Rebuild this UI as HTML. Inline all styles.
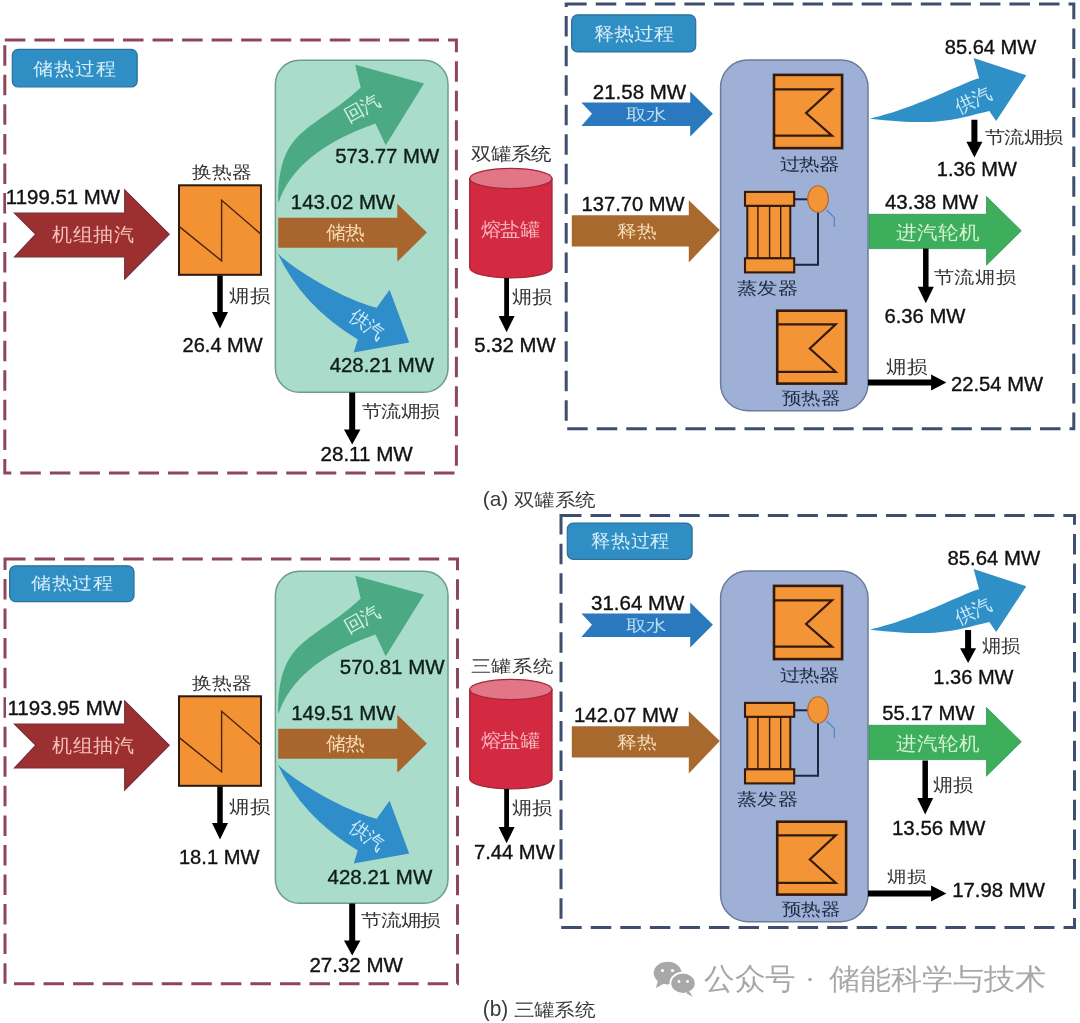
<!DOCTYPE html>
<html><head><meta charset="utf-8"><style>
html,body{margin:0;padding:0;background:#fff;overflow:hidden;}
svg{display:block;font-family:'Liberation Sans', sans-serif;filter:blur(0.4px);}
</style></head><body>
<svg width="1080" height="1023" viewBox="0 0 1080 1023">
<rect width="1080" height="1023" fill="#fff"/>
<g>
<path d="M4.8,40 H456.4 V473 H4.8 Z" fill="none" stroke="#8E4659" stroke-width="3" stroke-dasharray="20.5 9.05"/>
<path d="M566.2,4.1 H1073.8 V428.8 H566.2 Z" fill="none" stroke="#3D4E6E" stroke-width="3" stroke-dasharray="20.5 9.05"/>
<rect x="12.3" y="49.4" width="124.9" height="37.6" rx="6" fill="#2F8EC4" stroke="#2C6F98" stroke-width="1.2"/>
<text transform="translate(33.3,74.54) scale(1.1142,1)" font-size="18.47" fill="#D6EEFA" font-weight="normal">储热过程</text>
<rect x="571.6" y="14.8" width="124.1" height="37.1" rx="6" fill="#2F8EC4" stroke="#2C6F98" stroke-width="1.2"/>
<text transform="translate(593.89,40.09) scale(1.1151,1)" font-size="18.16" fill="#D6EEFA" font-weight="normal">释热过程</text>
<polygon points="14.5,213 124.7,213 124.7,190 169.2,234.2 124.7,279 124.7,257 14.5,257 35.8,234.2" fill="#9C2F30" stroke="#74313D" stroke-width="1.2" stroke-linejoin="miter" />
<rect x="6" y="186" width="118" height="25.5" fill="#fff"/>
<text transform="translate(5.87,204.2) scale(1.0524,1)" font-size="19.4" fill="#111" stroke="#111" stroke-width="0.35">1199.51 MW</text>
<text transform="translate(52.3,241.35) scale(1.0576,1)" font-size="18.96" fill="#F6C2B8" font-weight="normal">机组抽汽</text>
<rect x="179" y="185.3" width="82" height="89.5" rx="0" fill="#F39233" stroke="#2A1A10" stroke-width="2"/>
<polyline points="179,226.4 221.6,260.8 221.6,200.3 261,234.2" fill="none" stroke="#4A2410" stroke-width="1.4"/>
<text transform="translate(191.6,178.07) scale(1.1687,1)" font-size="17.08" fill="#333333" font-weight="normal">换热器</text>
<polygon points="217.25,275.5 222.75,275.5 222.75,312 228,312 220,328.5 212,312 217.25,312" fill="#000" stroke="none" stroke-width="0" stroke-linejoin="miter" />
<text transform="translate(229.4,301.54) scale(1.1336,1)" font-size="17.55" fill="#333333" font-weight="normal">㶲损</text>
<text transform="translate(182.6,352.2) scale(1.0309,1)" font-size="19.4" fill="#111" stroke="#111" stroke-width="0.35">26.4 MW</text>
<rect x="275.4" y="60.2" width="172.6" height="332" rx="24" fill="#A9DCCA" stroke="#6F9C8D" stroke-width="1.5"/>
<path d="M278.3,203.3 C277.2,126.3 313.6,131.8 360.7,87.4 L355.2,64.7 L424,83.5 L385.7,145.2 L375.5,123.5 Q294.9,151.7 278.3,203.3 Z" fill="#4BA983" stroke="none" stroke-width="0" />
<text transform="translate(362.3,108.5) rotate(-29) scale(1.0,1)" x="-19" y="6.46" font-size="19" fill="#D3F2E4">回汽</text>
<text transform="translate(335.19,162.5) scale(1.0492,1)" font-size="19.4" fill="#0F1F18" stroke="#0F1F18" stroke-width="0.35">573.77 MW</text>
<polygon points="278.2,217.8 397.3,217.8 397.3,203.8 426.9,232.4 397.3,261.8 397.3,247.7 278.2,247.7" fill="#A8652E" stroke="none" stroke-width="0" stroke-linejoin="miter" />
<rect x="288" y="190" width="109" height="24" fill="#A9DCCA" opacity="0"/>
<text transform="translate(290.87,208.8) scale(1.0514,1)" font-size="19.4" fill="#0F1F18" stroke="#0F1F18" stroke-width="0.35">143.02 MW</text>
<text transform="translate(325.7,239.45) scale(1.0406,1)" font-size="19.07" fill="#F7DDB5" font-weight="normal">储热</text>
<path d="M277.2,252.2 C278.7,257.2 330,294.9 376.7,307.8 L389.6,289.7 L409.2,342.4 L353.7,352.6 L357.8,339.4 Q301.4,305.6 277.2,252.2 Z" fill="#2F8ECA" stroke="none" stroke-width="0" />
<text transform="translate(367,324.5) rotate(34) scale(1.0,1)" x="-19" y="6.37" font-size="19" fill="#CDEBFA">供汽</text>
<text transform="translate(329.69,371.5) scale(1.0512,1)" font-size="19.4" fill="#0F1F18" stroke="#0F1F18" stroke-width="0.35">428.21 MW</text>
<polygon points="349.2,392.5 355.2,392.5 355.2,429.6 360.45,429.6 352.2,444.5 343.95,429.6 349.2,429.6" fill="#000" stroke="none" stroke-width="0" stroke-linejoin="miter" />
<text transform="translate(362,417.03) scale(1.1733,1)" font-size="16.94" fill="#333333" font-weight="normal">节流㶲损</text>
<text transform="translate(320.47,461) scale(1.0623,1)" font-size="19.4" fill="#111" stroke="#111" stroke-width="0.35">28.11 MW</text>
<path d="M469.7,178.5 L469.7,267.7 A41.15,10.2 0 0 0 552,267.7 L552,178.5 Z" fill="#D42A41" stroke="#A2283A" stroke-width="1.3" />
<ellipse cx="510.85" cy="178.5" rx="41.15" ry="10.2" fill="#E27586" stroke="#A2283A" stroke-width="1.3"/>
<text transform="translate(470.8,159.71) scale(1.1402,1)" font-size="17.63" fill="#333333" font-weight="normal">双罐系统</text>
<text transform="translate(480.8,235.75) scale(1.0739,1)" font-size="18.75" fill="#F5B3BE" font-weight="normal">熔盐罐</text>
<polygon points="504.2,278 509,278 509,316 514.6,316 506.6,332.2 498.6,316 504.2,316" fill="#000" stroke="none" stroke-width="0" stroke-linejoin="miter" />
<text transform="translate(511.8,303.11) scale(1.1171,1)" font-size="17.77" fill="#333333" font-weight="normal">㶲损</text>
<text transform="translate(474.19,351.7) scale(1.0492,1)" font-size="19.4" fill="#111" stroke="#111" stroke-width="0.35">5.32 MW</text>
<polygon points="581.4,102.5 690.2,102.5 690.2,91.4 712.9,113.8 690.2,136.6 690.2,126.1 581.4,126.1 592,113.8" fill="#2A78BE" stroke="none" stroke-width="0" stroke-linejoin="miter" />
<rect x="590" y="82" width="100" height="20" fill="#fff"/>
<text transform="translate(592.77,98.5) scale(1.0573,1)" font-size="19.4" fill="#111" stroke="#111" stroke-width="0.35">21.58 MW</text>
<text transform="translate(625.89,120.16) scale(1.3015,1)" font-size="15.68" fill="#B9DEF4" font-weight="normal">取水</text>
<polygon points="571.8,215.2 688.8,215.2 688.8,200.2 719.8,230.1 688.8,262.4 688.8,246.4 571.8,246.4" fill="#A8692F" stroke="none" stroke-width="0" stroke-linejoin="miter" />
<text transform="translate(581.59,210.5) scale(1.0371,1)" font-size="19.4" fill="#111" stroke="#111" stroke-width="0.35">137.70 MW</text>
<text transform="translate(617.1,237.35) scale(1.1647,1)" font-size="17.22" fill="#F5DDB8" font-weight="normal">释热</text>
<rect x="720.6" y="60.1" width="147.4" height="350.6" rx="27" fill="#9EB0D6" stroke="#6C7B9A" stroke-width="1.5"/>
<rect x="774" y="74.9" width="68.1" height="73.2" rx="0" fill="#F39536" stroke="#341A0C" stroke-width="2.6"/>
<polyline points="774,89.3 832,89.3 806.1,113 832,135.6 774,135.6" fill="none" stroke="#341A0C" stroke-width="2.2"/>
<text transform="translate(779.6,169.54) scale(1.2087,1)" font-size="16.63" fill="#1E2A40" font-weight="normal">过热器</text>
<polyline points="794.3,199.3 808,199.3" fill="none" stroke="#1B2540" stroke-width="2"/>
<polyline points="818,212 818,264.8 794.3,264.8" fill="none" stroke="#1B2540" stroke-width="2"/>
<polyline points="826.5,210 834.3,217.4 834.3,227" fill="none" stroke="#4F7CC4" stroke-width="1.1"/>
<rect x="747.3" y="205.8" width="43" height="52.5" rx="0" fill="#F39536" stroke="#341A0C" stroke-width="2.0"/>
<line x1="757.9" y1="205.8" x2="757.9" y2="258.3" stroke="#341A0C" stroke-width="1.4" stroke-linecap="butt"/>
<line x1="769.6" y1="205.8" x2="769.6" y2="258.3" stroke="#341A0C" stroke-width="1.4" stroke-linecap="butt"/>
<line x1="780.7" y1="205.8" x2="780.7" y2="258.3" stroke="#341A0C" stroke-width="1.4" stroke-linecap="butt"/>
<rect x="745" y="191.9" width="49.2" height="13.9" rx="0" fill="#F39536" stroke="#341A0C" stroke-width="2.1"/>
<rect x="745" y="258.3" width="49.2" height="14.1" rx="0" fill="#F39536" stroke="#341A0C" stroke-width="2.1"/>
<ellipse cx="818" cy="199" rx="10.3" ry="13.2" fill="#F39536" stroke="#B06A30" stroke-width="1.1"/>
<text transform="translate(736.79,293.61) scale(1.1888,1)" font-size="17.08" fill="#1E2A40" font-weight="normal">蒸发器</text>
<rect x="777.2" y="310.7" width="68.9" height="72.9" rx="0" fill="#F39536" stroke="#341A0C" stroke-width="2.6"/>
<polyline points="777.2,324.4 835.7,324.4 809.8,348.5 835.7,371.8 777.2,371.8" fill="none" stroke="#341A0C" stroke-width="2.2"/>
<text transform="translate(782.2,404.25) scale(1.1497,1)" font-size="17.16" fill="#1E2A40" font-weight="normal">预热器</text>
<path d="M869.7,118.7 C918,107.9 971.5,78.4 979.1,78.6 L973.6,58 L1026.3,75.3 L996.2,121 L989.3,110.9 C951.2,120.1 937.5,126.1 869.7,118.7 Z" fill="#2F90C8" stroke="none" stroke-width="0" />
<text transform="translate(973.6,100.4) rotate(-25.5) scale(1.0,1)" x="-19" y="6.37" font-size="19" fill="#CDEBFA">供汽</text>
<text transform="translate(944.8,53.6) scale(1.0355,1)" font-size="19.4" fill="#111" stroke="#111" stroke-width="0.35">85.64 MW</text>
<polygon points="971.4,119.8 977.4,119.8 977.4,141.8 982.4,141.8 974.4,157.5 966.4,141.8 971.4,141.8" fill="#000" stroke="none" stroke-width="0" stroke-linejoin="miter" />
<text transform="translate(984.9,142.97) scale(1.1903,1)" font-size="16.63" fill="#333333" font-weight="normal">节流㶲损</text>
<text transform="translate(936.8,175.8) scale(1.0322,1)" font-size="19.4" fill="#111" stroke="#111" stroke-width="0.35">1.36 MW</text>
<polygon points="869,214.3 986.5,214.3 986.5,196.5 1021.3,230.8 986.5,265.1 986.5,248.6 869,248.6" fill="#3DAE5C" stroke="#34935A" stroke-width="0.8" stroke-linejoin="miter" />
<rect x="880" y="190" width="106" height="23" fill="#fff"/>
<text transform="translate(884.99,208.5) scale(1.0548,1)" font-size="19.4" fill="#111" stroke="#111" stroke-width="0.35">43.38 MW</text>
<text transform="translate(896.39,238.56) scale(1.0823,1)" font-size="18.74" fill="#D5F3D2" font-weight="normal">进汽轮机</text>
<polygon points="923.05,248.6 928.55,248.6 928.55,286.7 933.8,286.7 925.8,303.2 917.8,286.7 923.05,286.7" fill="#000" stroke="none" stroke-width="0" stroke-linejoin="miter" />
<text transform="translate(933.8,283.04) scale(1.1924,1)" font-size="16.84" fill="#333333" font-weight="normal">节流㶲损</text>
<text transform="translate(884.39,322.8) scale(1.0440,1)" font-size="19.4" fill="#111" stroke="#111" stroke-width="0.35">6.36 MW</text>
<polygon points="868,379.4 931.1,379.4 931.1,374.4 946.4,382.4 931.1,390.4 931.1,385.4 868,385.4" fill="#000" stroke="none" stroke-width="0" stroke-linejoin="miter" />
<text transform="translate(886.3,373.14) scale(1.1423,1)" font-size="17.55" fill="#333333" font-weight="normal">㶲损</text>
<text transform="translate(950.99,391.1) scale(1.0424,1)" font-size="19.4" fill="#111" stroke="#111" stroke-width="0.35">22.54 MW</text>
<text transform="translate(482.75,506.41) scale(1.0237,1)" font-size="20.43" fill="#3A3A3A" font-weight="normal">(a)</text>
<text transform="translate(514.2,505.51) scale(1.1431,1)" font-size="17.63" fill="#3A3A3A" font-weight="normal">双罐系统</text>
</g><g>
<path d="M5,559 H457.5 V983.7 H5 Z" fill="none" stroke="#8E4659" stroke-width="3" stroke-dasharray="20.5 9.05"/>
<path d="M561,515.5 H1074.5 V927.6 H561 Z" fill="none" stroke="#3D4E6E" stroke-width="3" stroke-dasharray="20.5 9.05"/>
<rect x="9.6" y="565.8" width="124.4" height="35.9" rx="6" fill="#2F8EC4" stroke="#2C6F98" stroke-width="1.2"/>
<text transform="translate(31.1,589.27) scale(1.1855,1)" font-size="17.04" fill="#D6EEFA" font-weight="normal">储热过程</text>
<rect x="567.3" y="523.1" width="124.8" height="36.2" rx="6" fill="#2F8EC4" stroke="#2C6F98" stroke-width="1.2"/>
<text transform="translate(591.41,546.64) scale(1.0692,1)" font-size="18.47" fill="#D6EEFA" font-weight="normal">释热过程</text>
<polygon points="14.5,724 124.7,724 124.7,701 169.2,745.2 124.7,790 124.7,768 14.5,768 35.8,745.2" fill="#9C2F30" stroke="#74313D" stroke-width="1.2" stroke-linejoin="miter" />
<rect x="6" y="697" width="118" height="25.5" fill="#fff"/>
<text transform="translate(7.46,715.2) scale(1.0562,1)" font-size="19.4" fill="#111" stroke="#111" stroke-width="0.35">1193.95 MW</text>
<text transform="translate(52.3,752.35) scale(1.0576,1)" font-size="18.96" fill="#F6C2B8" font-weight="normal">机组抽汽</text>
<rect x="179" y="696.3" width="82" height="89.5" rx="0" fill="#F39233" stroke="#2A1A10" stroke-width="2"/>
<polyline points="179,737.4 221.6,771.8 221.6,711.3 261,745.2" fill="none" stroke="#4A2410" stroke-width="1.4"/>
<text transform="translate(191.6,689.07) scale(1.1687,1)" font-size="17.08" fill="#333333" font-weight="normal">换热器</text>
<polygon points="217.25,786.5 222.75,786.5 222.75,823 228,823 220,839.5 212,823 217.25,823" fill="#000" stroke="none" stroke-width="0" stroke-linejoin="miter" />
<text transform="translate(229.4,812.54) scale(1.1336,1)" font-size="17.55" fill="#333333" font-weight="normal">㶲损</text>
<text transform="translate(178.89,864.4) scale(1.0388,1)" font-size="19.4" fill="#111" stroke="#111" stroke-width="0.35">18.1 MW</text>
<rect x="275.4" y="571.2" width="172.6" height="332" rx="24" fill="#A9DCCA" stroke="#6F9C8D" stroke-width="1.5"/>
<path d="M278.3,714.3 C277.2,637.3 313.6,642.8 360.7,598.4 L355.2,575.7 L424,594.5 L385.7,656.2 L375.5,634.5 Q294.9,662.7 278.3,714.3 Z" fill="#4BA983" stroke="none" stroke-width="0" />
<text transform="translate(362.3,619.5) rotate(-29) scale(1.0,1)" x="-19" y="6.46" font-size="19" fill="#D3F2E4">回汽</text>
<text transform="translate(339.78,673.5) scale(1.0563,1)" font-size="19.4" fill="#0F1F18" stroke="#0F1F18" stroke-width="0.35">570.81 MW</text>
<polygon points="278.2,728.8 397.3,728.8 397.3,714.8 426.9,743.4 397.3,772.8 397.3,758.7 278.2,758.7" fill="#A8652E" stroke="none" stroke-width="0" stroke-linejoin="miter" />
<rect x="288" y="701" width="109" height="24" fill="#A9DCCA" opacity="0"/>
<text transform="translate(291.27,719.8) scale(1.0514,1)" font-size="19.4" fill="#0F1F18" stroke="#0F1F18" stroke-width="0.35">149.51 MW</text>
<text transform="translate(325.7,750.45) scale(1.0406,1)" font-size="19.07" fill="#F7DDB5" font-weight="normal">储热</text>
<path d="M277.2,763.2 C278.7,768.2 330,805.9 376.7,818.8 L389.6,800.7 L409.2,853.4 L353.7,863.6 L357.8,850.4 Q301.4,816.6 277.2,763.2 Z" fill="#2F8ECA" stroke="none" stroke-width="0" />
<text transform="translate(367,835.5) rotate(34) scale(1.0,1)" x="-19" y="6.37" font-size="19" fill="#CDEBFA">供汽</text>
<text transform="translate(327.59,884) scale(1.0552,1)" font-size="19.4" fill="#0F1F18" stroke="#0F1F18" stroke-width="0.35">428.21 MW</text>
<polygon points="349.2,903.5 355.2,903.5 355.2,940.6 360.45,940.6 352.2,955.5 343.95,940.6 349.2,940.6" fill="#000" stroke="none" stroke-width="0" stroke-linejoin="miter" />
<text transform="translate(361.4,926.29) scale(1.2099,1)" font-size="16.53" fill="#333333" font-weight="normal">节流㶲损</text>
<text transform="translate(309.47,972) scale(1.0573,1)" font-size="19.4" fill="#111" stroke="#111" stroke-width="0.35">27.32 MW</text>
<path d="M469.7,689.5 L469.7,778.7 A41.15,10.2 0 0 0 552,778.7 L552,689.5 Z" fill="#D42A41" stroke="#A2283A" stroke-width="1.3" />
<ellipse cx="510.85" cy="689.5" rx="41.15" ry="10.2" fill="#E27586" stroke="#A2283A" stroke-width="1.3"/>
<text transform="translate(470.79,671.8) scale(1.1949,1)" font-size="16.91" fill="#333333" font-weight="normal">三罐系统</text>
<text transform="translate(480.8,746.75) scale(1.0739,1)" font-size="18.75" fill="#F5B3BE" font-weight="normal">熔盐罐</text>
<polygon points="504.2,789 509,789 509,827 514.6,827 506.6,843.2 498.6,827 504.2,827" fill="#000" stroke="none" stroke-width="0" stroke-linejoin="miter" />
<text transform="translate(511.8,814.11) scale(1.1171,1)" font-size="17.77" fill="#333333" font-weight="normal">㶲损</text>
<text transform="translate(473.99,858.6) scale(1.0401,1)" font-size="19.4" fill="#111" stroke="#111" stroke-width="0.35">7.44 MW</text>
<polygon points="581.4,613.5 690.2,613.5 690.2,602.4 712.9,624.8 690.2,647.6 690.2,637.1 581.4,637.1 592,624.8" fill="#2A78BE" stroke="none" stroke-width="0" stroke-linejoin="miter" />
<rect x="590" y="593" width="100" height="20" fill="#fff"/>
<text transform="translate(590.98,609.5) scale(1.0572,1)" font-size="19.4" fill="#111" stroke="#111" stroke-width="0.35">31.64 MW</text>
<text transform="translate(625.89,631.16) scale(1.3015,1)" font-size="15.68" fill="#B9DEF4" font-weight="normal">取水</text>
<polygon points="571.8,726.2 688.8,726.2 688.8,711.2 719.8,741.1 688.8,773.4 688.8,757.4 571.8,757.4" fill="#A8692F" stroke="none" stroke-width="0" stroke-linejoin="miter" />
<text transform="translate(573.97,721.5) scale(1.0514,1)" font-size="19.4" fill="#111" stroke="#111" stroke-width="0.35">142.07 MW</text>
<text transform="translate(617.1,748.35) scale(1.1647,1)" font-size="17.22" fill="#F5DDB8" font-weight="normal">释热</text>
<rect x="720.6" y="571.1" width="147.4" height="350.6" rx="27" fill="#9EB0D6" stroke="#6C7B9A" stroke-width="1.5"/>
<rect x="774" y="585.9" width="68.1" height="73.2" rx="0" fill="#F39536" stroke="#341A0C" stroke-width="2.6"/>
<polyline points="774,600.3 832,600.3 806.1,624 832,646.6 774,646.6" fill="none" stroke="#341A0C" stroke-width="2.2"/>
<text transform="translate(779.6,680.54) scale(1.2087,1)" font-size="16.63" fill="#1E2A40" font-weight="normal">过热器</text>
<polyline points="794.3,710.3 808,710.3" fill="none" stroke="#1B2540" stroke-width="2"/>
<polyline points="818,723 818,775.8 794.3,775.8" fill="none" stroke="#1B2540" stroke-width="2"/>
<polyline points="826.5,721 834.3,728.4 834.3,738" fill="none" stroke="#4F7CC4" stroke-width="1.1"/>
<rect x="747.3" y="716.8" width="43" height="52.5" rx="0" fill="#F39536" stroke="#341A0C" stroke-width="2.0"/>
<line x1="757.9" y1="716.8" x2="757.9" y2="769.3" stroke="#341A0C" stroke-width="1.4" stroke-linecap="butt"/>
<line x1="769.6" y1="716.8" x2="769.6" y2="769.3" stroke="#341A0C" stroke-width="1.4" stroke-linecap="butt"/>
<line x1="780.7" y1="716.8" x2="780.7" y2="769.3" stroke="#341A0C" stroke-width="1.4" stroke-linecap="butt"/>
<rect x="745" y="702.9" width="49.2" height="13.9" rx="0" fill="#F39536" stroke="#341A0C" stroke-width="2.1"/>
<rect x="745" y="769.3" width="49.2" height="14.1" rx="0" fill="#F39536" stroke="#341A0C" stroke-width="2.1"/>
<ellipse cx="818" cy="710" rx="10.3" ry="13.2" fill="#F39536" stroke="#B06A30" stroke-width="1.1"/>
<text transform="translate(736.79,804.61) scale(1.1888,1)" font-size="17.08" fill="#1E2A40" font-weight="normal">蒸发器</text>
<rect x="777.2" y="821.7" width="68.9" height="72.9" rx="0" fill="#F39536" stroke="#341A0C" stroke-width="2.6"/>
<polyline points="777.2,835.4 835.7,835.4 809.8,859.5 835.7,882.8 777.2,882.8" fill="none" stroke="#341A0C" stroke-width="2.2"/>
<text transform="translate(782.2,915.25) scale(1.1497,1)" font-size="17.16" fill="#1E2A40" font-weight="normal">预热器</text>
<path d="M869.7,629.7 C918,618.9 971.5,589.4 979.1,589.6 L973.6,569 L1026.3,586.3 L996.2,632 L989.3,621.9 C951.2,631.1 937.5,637.1 869.7,629.7 Z" fill="#2F90C8" stroke="none" stroke-width="0" />
<text transform="translate(973.6,611.4) rotate(-25.5) scale(1.0,1)" x="-19" y="6.37" font-size="19" fill="#CDEBFA">供汽</text>
<text transform="translate(947.49,564.6) scale(1.0481,1)" font-size="19.4" fill="#111" stroke="#111" stroke-width="0.35">85.64 MW</text>
<polygon points="965.1,630 971.1,630 971.1,648.3 976.1,648.3 968.1,663.1 960.1,648.3 965.1,648.3" fill="#000" stroke="none" stroke-width="0" stroke-linejoin="miter" />
<text transform="translate(981.61,652.08) scale(1.0727,1)" font-size="17.98" fill="#333333" font-weight="normal">㶲损</text>
<text transform="translate(933.3,684) scale(1.0336,1)" font-size="19.4" fill="#111" stroke="#111" stroke-width="0.35">1.36 MW</text>
<polygon points="869,725.3 986.5,725.3 986.5,707.5 1021.3,741.8 986.5,776.1 986.5,759.6 869,759.6" fill="#3DAE5C" stroke="#34935A" stroke-width="0.8" stroke-linejoin="miter" />
<rect x="880" y="701" width="106" height="23" fill="#fff"/>
<text transform="translate(882.29,719.5) scale(1.0435,1)" font-size="19.4" fill="#111" stroke="#111" stroke-width="0.35">55.17 MW</text>
<text transform="translate(896.39,749.56) scale(1.0823,1)" font-size="18.74" fill="#D5F3D2" font-weight="normal">进汽轮机</text>
<polygon points="922.45,760.5 927.95,760.5 927.95,798 933.2,798 925.2,814.4 917.2,798 922.45,798" fill="#000" stroke="none" stroke-width="0" stroke-linejoin="miter" />
<text transform="translate(933.2,790.8) scale(1.1162,1)" font-size="17.87" fill="#333333" font-weight="normal">㶲损</text>
<text transform="translate(891.96,835.4) scale(1.0575,1)" font-size="19.4" fill="#111" stroke="#111" stroke-width="0.35">13.56 MW</text>
<polygon points="868,890.4 931.1,890.4 931.1,885.4 946.4,893.4 931.1,901.4 931.1,896.4 868,896.4" fill="#000" stroke="none" stroke-width="0" stroke-linejoin="miter" />
<text transform="translate(886.91,881.94) scale(1.2211,1)" font-size="16.17" fill="#333333" font-weight="normal">㶲损</text>
<text transform="translate(952.17,897.2) scale(1.0517,1)" font-size="19.4" fill="#111" stroke="#111" stroke-width="0.35">17.98 MW</text>
<text transform="translate(482.75,1015.92) scale(0.9184,1)" font-size="22.77" fill="#3A3A3A" font-weight="normal">(b)</text>
<text transform="translate(513.79,1015.51) scale(1.1489,1)" font-size="17.63" fill="#3A3A3A" font-weight="normal">三罐系统</text>
</g>
<ellipse cx="667.6" cy="973.1" rx="13.9" ry="11.3" fill="#A8A8A8"/>
<polygon points="658,980 656,988 665,983" fill="#A8A8A8"/>
<ellipse cx="683" cy="983.3" rx="12.6" ry="10.6" fill="#A8A8A8" stroke="#fff" stroke-width="1.8"/>
<polygon points="689,991 693,997 686,993" fill="#A8A8A8"/>
<circle cx="662.5" cy="970.5" r="1.6" fill="#fff"/>
<circle cx="672.5" cy="970.5" r="1.6" fill="#fff"/>
<circle cx="679" cy="981.5" r="1.4" fill="#fff"/>
<circle cx="687.5" cy="981.5" r="1.4" fill="#fff"/>
<text transform="translate(704.3,989.36) scale(1.0190,1)" font-size="29.57" fill="#A8A8A8" font-weight="normal">公众号</text>
<circle cx="810" cy="979.5" r="1.8" fill="#A8A8A8"/>
<text transform="translate(828.7,989.45) scale(1.0707,1)" font-size="28.96" fill="#A8A8A8" font-weight="normal">储能科学与技术</text>
</svg></body></html>
